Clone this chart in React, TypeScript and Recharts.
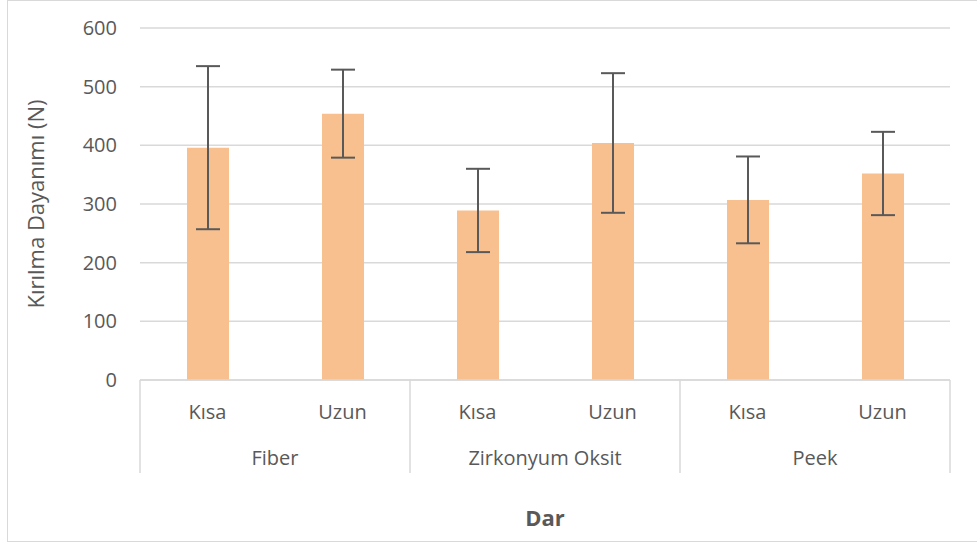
import React from 'react';
import { BarChart, Bar, XAxis, YAxis, CartesianGrid, ErrorBar, Label } from 'recharts';

const subCategories = ['Kısa', 'Uzun', 'Kısa', 'Uzun', 'Kısa', 'Uzun'];
const groups = ['Fiber', 'Fiber', 'Zirkonyum Oksit', 'Zirkonyum Oksit', 'Peek', 'Peek'];
const means = [396, 454, 289, 404, 307, 352];
const errors = [139, 75, 71, 119, 74, 71];
const yTicks = [0, 100, 200, 300, 400, 500, 600];

const data = subCategories.map((s, i) => ({ idx: i, sub: s, group: groups[i], mean: means[i], err: errors[i] }));

const FONT = '"Open Sans", sans-serif';
const TEXT = '#595959';
const LINE = '#d9d9d9';

const MultiTick = (props: any) => {
  const { x, y, payload, width, visibleTicksCount } = props;
  const i = payload.value as number;
  const count = visibleTicksCount || subCategories.length;
  const half = width ? width / count / 2 : payload.offset || 0;
  const isFirst = i === 0 || groups[i - 1] !== groups[i];
  const isLast = i === subCategories.length - 1;
  return (
    <g>
      <text x={x} y={y + 31} textAnchor="middle" dominantBaseline="central" fill={TEXT} fontSize={20} fontFamily={FONT}>
        {subCategories[i]}
      </text>
      {isFirst && (
        <>
          <line x1={x - half} x2={x - half} y1={y} y2={y + 93} stroke={LINE} strokeWidth={1.5} />
          <text x={x + half} y={y + 77} textAnchor="middle" dominantBaseline="central" fill={TEXT} fontSize={20} fontFamily={FONT}>
            {groups[i]}
          </text>
        </>
      )}
      {isLast && <line x1={x + half} x2={x + half} y1={y} y2={y + 93} stroke={LINE} strokeWidth={1.5} />}
    </g>
  );
};

export default function App() {
  return (
    <div style={{ position: 'absolute', left: 0, top: 0, width: 977, height: 546, overflow: 'hidden', background: '#fff' }}>
      <div style={{ position: 'absolute', left: 7, top: 0, width: 1000, height: 542, border: `1px solid ${LINE}`, boxSizing: 'border-box' }} />
      <div style={{ position: 'absolute', left: 0, top: 0 }}>
        <BarChart width={977} height={546} data={data} margin={{ top: 28, right: 27, bottom: 0, left: 0 }} barSize={42}>
          <CartesianGrid vertical={false} stroke={LINE} strokeWidth={1.5} />
          <XAxis
            dataKey="idx"
            height={166}
            tickLine={false}
            tickSize={0}
            tickMargin={0}
            axisLine={{ stroke: LINE, strokeWidth: 1.5 }}
            tick={<MultiTick />}
            interval={0}
          >
            <Label
              content={(p: any) => {
                const vb = p.viewBox || {};
                return (
                  <text x={vb.x + vb.width / 2} y={vb.y + 137} textAnchor="middle" dominantBaseline="central" fill={TEXT} fontSize={22} fontWeight="bold" fontFamily={FONT}>
                    Dar
                  </text>
                );
              }}
            />
          </XAxis>
          <YAxis
            width={140}
            domain={[0, 600]}
            ticks={yTicks}
            interval={0}
            axisLine={false}
            tickLine={false}
            tickSize={0}
            tickMargin={23}
            tick={{ fill: TEXT, fontSize: 20, fontFamily: FONT }}
          >
            <Label
              content={(p: any) => {
                const vb = p.viewBox || {};
                const cx = vb.x + 35;
                const cy = vb.y + vb.height / 2;
                return (
                  <text x={cx} y={cy} transform={`rotate(-90 ${cx} ${cy})`} textAnchor="middle" dominantBaseline="central" fill={TEXT} fontSize={22} fontFamily={FONT}>
                    Kırılma Dayanımı (N)
                  </text>
                );
              }}
            />
          </YAxis>
          <Bar dataKey="mean" fill="#F9C08F" isAnimationActive={false}>
            <ErrorBar dataKey="err" width={12} stroke="#595959" strokeWidth={2} direction="y" />
          </Bar>
        </BarChart>
      </div>
    </div>
  );
}
